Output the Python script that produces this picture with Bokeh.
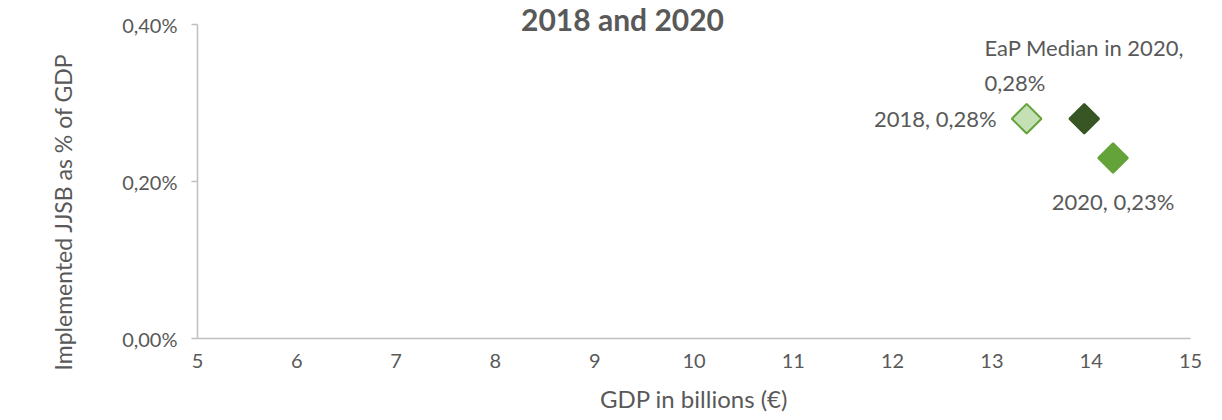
from bokeh.plotting import figure
from bokeh.models import ColumnDataSource, FixedTicker, Label, LabelSet, Title
from bokeh.core.properties import value
from bokeh.embed import file_html
from bokeh.resources import INLINE
import math

# ---- data ----
series = ["2018", "EaP Median in 2020", "2020"]
gdp_bn = [13.35, 13.93, 14.22]
jjsb_pct = [0.28, 0.28, 0.23]
point_labels = ["2018, 0,28%", "EaP Median in 2020,\n0,28%", "2020, 0,23%"]
fill_colors = ["#c5e0b4", "#375623", "#63a33a"]
line_colors = ["#63a33a", "#375623", "#63a33a"]
x_ticks = [5, 6, 7, 8, 9, 10, 11, 12, 13, 14, 15]
y_ticks = [0.0, 0.2, 0.4]
y_tick_labels = ["0,00%", "0,20%", "0,40%"]

FONT = "Lato"
GREY = "#595959"
AX = "#bfbfbf"

# frame spans the full top of the canvas; axis is bounded to 0..0.4 (which sits 24px below top)
Y_MAX = 0.4
y_top = Y_MAX * 338 / 314

p = figure(width=1222, height=420, output_backend="svg", toolbar_location=None,
           x_range=(5, 15), y_range=(0, y_top))
p.min_border_left = 197
p.min_border_right = 32
p.min_border_top = 0
p.min_border_bottom = 82
p.outline_line_color = None
p.xgrid.visible = False
p.ygrid.visible = False
p.background_fill_color = "white"
p.border_fill_color = "white"

src = ColumnDataSource(dict(x=gdp_bn, y=jjsb_pct, fill=fill_colors, line=line_colors,
                            name=series))
p.scatter("x", "y", source=src, marker="square", size=21, angle=math.pi / 4,
          fill_color="fill", line_color="line", line_width=2)

# labels
for i in range(len(series)):
    s = ColumnDataSource(dict(x=[gdp_bn[i]], y=[jjsb_pct[i]], t=[point_labels[i]]))
    if i == 0:
        kw = dict(x_offset=-30, y_offset=0, text_align="right", text_baseline="middle")
    elif i == 1:
        kw = dict(x_offset=0, y_offset=23, text_align="center", text_baseline="bottom")
    else:
        kw = dict(x_offset=0, y_offset=-30, text_align="center", text_baseline="top")
    ls = LabelSet(x="x", y="y", text="t", source=s, text_font=value(FONT),
                  text_font_size="22px", text_color=GREY, text_line_height=1.3, **kw)
    p.add_layout(ls)

# axes
p.xaxis.ticker = FixedTicker(ticks=x_ticks)
p.yaxis.ticker = FixedTicker(ticks=y_ticks)
p.yaxis.bounds = (0, Y_MAX)
p.yaxis.major_label_overrides = {t: l for t, l in zip(y_ticks, y_tick_labels)}
for ax in (p.xaxis[0], p.yaxis[0]):
    ax.axis_line_color = AX
    ax.axis_line_width = 1.5
    ax.major_label_text_font = FONT
    ax.major_label_text_font_size = "20px"
    ax.major_label_text_color = GREY
    ax.axis_label_text_font = FONT
    ax.axis_label_text_font_size = "24px"
    ax.axis_label_text_font_style = "normal"
    ax.axis_label_text_color = GREY
    ax.minor_tick_line_color = None
p.xaxis.major_tick_line_color = None
p.xaxis.major_label_standoff = 9
p.yaxis.major_tick_line_color = AX
p.yaxis.major_tick_line_width = 1.5
p.yaxis.major_tick_out = 6
p.yaxis.major_tick_in = 0
p.yaxis.major_label_standoff = 14
p.xaxis.axis_label = "GDP in billions (€)"
p.xaxis.axis_label_standoff = 13

ytitle = Title(text="Implemented JJSB as % of GDP", align="left", offset=-32,
               standoff=86, text_font=FONT, text_font_size="23px",
               text_font_style="normal", text_color=GREY)
p.add_layout(ytitle, "left")

title = Label(x=425, y=320, x_units="screen", y_units="screen",
              text="2018 and 2020", text_font=FONT, text_font_size="30px",
              text_font_style="bold", text_color=GREY, text_align="center",
              text_baseline="alphabetic")
p.add_layout(title)

open("out.html", "w").write(file_html(p, INLINE))
